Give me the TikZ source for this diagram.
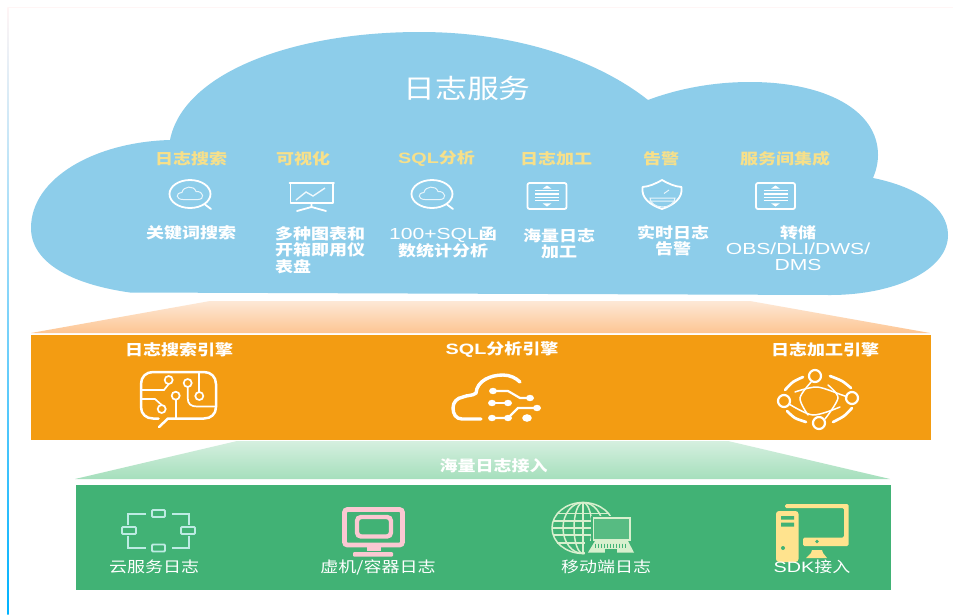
\documentclass[tikz,border=0pt]{standalone}
\usepackage{fontspec}
\setmainfont[FakeStretch=1.2]{Noto Sans CJK SC}
\newfontfamily\lat[FakeStretch=1.32]{Liberation Sans}
\definecolor{cloudblue}{HTML}{8DCDEA}
\definecolor{titleyellow}{HTML}{F7E08A}
\definecolor{bandorange}{HTML}{F39C12}
\definecolor{bandgreen}{HTML}{41B275}
\definecolor{iconcyan}{HTML}{BDEBE3}
\definecolor{iconpink}{HTML}{FBC8D2}
\definecolor{iconpale}{HTML}{D8F0CE}
\definecolor{iconyellow}{HTML}{FFE38E}
\definecolor{orangetop}{HTML}{FDE8D6}
\definecolor{orangebot}{HTML}{FDC592}
\definecolor{greentop}{HTML}{D5EFDF}
\definecolor{greenbot}{HTML}{A5DFBC}
\tikzset{
  x=1pt,y=-1pt,
  txt/.style={inner sep=0pt,text=white,align=center,font=\fontsize{15}{16.3}\selectfont},
  ttl/.style={inner sep=0pt,text=titleyellow,font=\fontsize{15}{16}\selectfont\bfseries},
  bold/.style={inner sep=0pt,text=white,font=\fontsize{15}{16}\selectfont\bfseries},
  low/.style={inner sep=0pt,text=white,font=\fontsize{15}{16}\selectfont},
  wicon/.style={draw=white,line width=1.8pt,line join=round,line cap=round},
  ficon/.style={draw=white!80!cloudblue,line width=1pt},
  oicon/.style={draw=white,line width=2.5pt,line cap=round,line join=round},
}
\newcommand\searchicon[2]{
  \begin{scope}[shift={(#1,#2)}]
    \draw[wicon] (0,0) ellipse [x radius=20.5,y radius=14];
    \draw[wicon] (15,10.5) -- (21,15);
    \draw[ficon] (-7,5.5) .. controls (-14,5.5) and (-15,-1) .. (-8,-1.5)
      .. controls (-7,-8) and (4,-9) .. (6,-2.5)
      .. controls (14,-3) and (15,5.5) .. (8,5.5) -- cycle;
  \end{scope}}
\newcommand\boxicon[2]{
  \begin{scope}[shift={(#1,#2)}]
    \draw[wicon,rounded corners=2pt] (-19.5,-13) rectangle (19.5,13);
    \foreach \yy in {-5.3,-2,1.3,4.7}{\draw[white,line width=1.4pt] (-12,\yy) -- (12,\yy);}
    \fill[white] (0,-10.5) -- (4.5,-7.3) -- (-4.5,-7.3) -- cycle;
    \fill[white] (0,10.5) -- (4.5,7.3) -- (-4.5,7.3) -- cycle;
  \end{scope}}
\begin{document}
\begin{tikzpicture}
\useasboundingbox (0,0) rectangle (953,614);
% page edges
\fill[white] (0,0) rectangle (953,614);
\shade[top color=red!4,middle color=yellow!15,bottom color=cyan!70!blue] (7.3,7) rectangle (8.6,614);
\fill[red!4] (8,7) rectangle (953,7.6);
% cloud
\fill[cloudblue] (130,292.5)
  .. controls (70,284) and (31,262) .. (31,228)
  .. controls (31,178) and (95,142) .. (170,140)
  .. controls (183,74) and (290,32) .. (420,32)
  .. controls (520,32) and (600,62) .. (648,100)
  .. controls (680,88) and (715,82) .. (750,82)
  .. controls (825,82) and (878,110) .. (878,155)
  .. controls (878,163) and (876,171) .. (873,178)
  .. controls (918,187) and (948,208) .. (948,235)
  .. controls (948,270) and (895,295) .. (830,295)
  -- cycle;
\node[inner sep=0pt,text=white,font=\fontsize{26.5}{28}\selectfont] (title) at (467,88) {日志服务};
\node[ttl] (t1) at (191,158.5) {日志搜索};
\node[ttl] (t2) at (303,158.5) {可视化};
\node[ttl] (t3) at (436.5,158.5) {{\lat SQL}分析};
\node[ttl] (t4) at (556,158.5) {日志加工};
\node[ttl] (t5) at (661,158.5) {告警};
\node[ttl] (t6) at (785,158.5) {服务间集成};
% cloud icons
\searchicon{190}{194}
\searchicon{432}{194}
\draw[wicon] (289.5,183) -- (334,183) (290.5,183) -- (290.5,203) -- (333,203) -- (333,183);
\draw[wicon] (311.5,203) -- (311.5,207) (297,211) -- (311.5,207) -- (326,211);
\draw[white!85!cloudblue,line width=1.4pt] (296,200) -- (306,192) -- (313,196) -- (325,188);
\boxicon{547}{196}
\boxicon{775.5}{196}
\draw[wicon] (662,180) .. controls (655,184) and (649,186.5) .. (642.5,187)
  .. controls (641,198) and (650,205) .. (662,209)
  .. controls (674,205) and (683,198) .. (681.5,187)
  .. controls (675,186.5) and (669,184) .. (662,180) -- cycle;
\draw[ficon] (650,198) arc [start angle=180,end angle=0,x radius=12.5,y radius=9] -- cycle;
\draw[ficon] (664,193.5) -- (669,190) (649,201) -- (675,201);
% cloud text
\node[txt] (s1) at (191,233) {\bfseries 关键词搜索};
\node[txt,align=left,anchor=west] (s2) at (275,250) {\bfseries 多种图表和\\\bfseries 开箱即用仪\\\bfseries 表盘};
\node[txt] (s3) at (443,242.5) {{\fontsize{16}{16.3}\selectfont\lat 100+SQL}\bfseries 函\\\bfseries 数统计分析};
\node[txt] (s4) at (559,244) {\bfseries 海量日志\\\bfseries 加工};
\node[txt] (s5) at (673,241) {\bfseries 实时日志\\\bfseries 告警};
\node[txt] (s6) at (798,248) {\bfseries 转储\\\fontsize{16}{16.3}\selectfont\lat OBS/DLI/DWS/\\\fontsize{16}{16.3}\selectfont\lat DMS};
% orange band
\shade[top color=orangetop,bottom color=orangebot] (210,301) -- (750,301) -- (930,333) -- (31,333) -- cycle;
\fill[bandorange] (30.5,334.5) rectangle (931,440);
\node[bold] (e1) at (179,349.5) {日志搜索引擎};
\node[bold] (e2) at (502,349.5) {{\lat SQL}分析引擎};
\node[bold] (e3) at (825,349.5) {日志加工引擎};
% circuit icon
\draw[oicon] (158.5,418.5) -- (153,418.5) .. controls (146,418.5) and (141,414) .. (141,407)
  -- (141,384) .. controls (141,377) and (146,372) .. (153,372)
  -- (204,372) .. controls (211,372) and (216,377) .. (216,384)
  -- (216,407) .. controls (216,414) and (211,418.5) .. (204,418.5) -- (168,418.5) -- (159,427);
\begin{scope}[draw=white,line width=1.7pt]
  \draw (168.7,380) circle [radius=4];
  \draw (187.7,383) circle [radius=4];
  \draw (199.3,396) circle [radius=4];
  \draw (175.7,395.7) circle [radius=4];
  \draw (161.7,409) circle [radius=4];
  \draw (168.7,384) -- (164,390) -- (141,390);
  \draw (187.7,387) -- (187.7,398) .. controls (187.7,404) and (191,406.5) .. (197,406.5) -- (215,406.5);
  \draw (199.3,372) -- (199.3,392);
  \draw (175.7,399.7) -- (175.7,418.5);
  \draw (141,399) -- (155,399) -- (161.7,405);
\end{scope}
% cloud-circuit icon
\draw[white,line width=3.4pt,line cap=round] (481,419) -- (462,419)
  .. controls (456,419) and (453,414) .. (453,408)
  .. controls (453,402) and (457,398) .. (463,397)
  .. controls (467,395) and (473,396) .. (476,393)
  .. controls (477,381) and (490,375) .. (503,375)
  .. controls (510,375) and (516,378) .. (520,382);
\begin{scope}[white,line width=2.2pt]
  \draw (493,391) -- (508,391) -- (520,398) -- (530,398);
  \draw (492,403) -- (508,403);
  \draw (492,418) -- (508,418) -- (518,408) -- (537,408);
  \foreach \px/\py in {493/391,530/398,492/403,508/403,492/418,508/418,537/408}{\fill (\px,\py) ellipse [x radius=4,y radius=3.2];}
  \fill (527,418) ellipse [x radius=4.8,y radius=3.8];
\end{scope}
% network icon
\begin{scope}[draw=white,line cap=round]
  \begin{scope}[line width=2.7pt]
    \draw plot[smooth] coordinates {(785,390) (793,382) (803,377)};
    \draw plot[smooth] coordinates {(830,376) (842,381) (851,388)};
    \draw plot[smooth] coordinates {(852,408) (844,416) (833,422)};
    \draw plot[smooth] coordinates {(787,411) (795,418) (806,422)};
  \end{scope}
  \begin{scope}[line width=2.2pt]
    \draw (815,376) circle [radius=6];
    \draw (852,398) circle [radius=6];
    \draw (819,423) circle [radius=6];
    \draw (784,401) circle [radius=6];
  \end{scope}
  \begin{scope}[line width=1.5pt]
    \draw plot[smooth] coordinates {(795,392) (817,387) (842,395) (847,397)};
    \draw plot[smooth] coordinates {(789,404) (813,415) (840,407)};
    \draw plot[smooth] coordinates {(812,381) (800,398) (808,415)};
    \draw plot[smooth] coordinates {(828,385) (838,398) (825,419)};
  \end{scope}
\end{scope}
% green band
\shade[top color=greentop,bottom color=greenbot] (237,441) -- (728,441) -- (890,479) -- (75,479) -- cycle;
\node[bold] (a0) at (493.5,466) {海量日志接入};
\fill[bandgreen] (76,485) rectangle (891,590);
% nodes icon
\begin{scope}[draw=iconcyan,line width=1.8pt]
  \draw[rounded corners=1pt] (152,510) rectangle (165,517);
  \draw[rounded corners=1pt] (152,544.5) rectangle (165,551.5);
  \draw[rounded corners=1pt] (122,527) rectangle (136,534);
  \draw[rounded corners=1pt] (181,527) rectangle (195,534);
  \draw (128,525) -- (128,514) -- (146,514);
  \draw (172,514) -- (189,514) -- (189,525);
  \draw (128,536) -- (128,548) -- (146,548);
  \draw (172,548) -- (189,548) -- (189,536);
\end{scope}
% monitor icon
\draw[iconpink,line width=4.8pt,rounded corners=3pt] (344.5,509.5) rectangle (402.5,545);
\draw[iconpink,line width=4.4pt,rounded corners=4pt] (357,517) rectangle (391,536.5);
\fill[iconpink] (366.5,547) rectangle (380.5,551);
\fill[iconpink,rounded corners=1pt] (353,552) rectangle (393,556.5);
% globe and laptop icon
\begin{scope}
  \begin{scope}[draw=iconpale,line width=1.5pt]
    \draw (583,528) ellipse [x radius=31,y radius=25.5];
    \draw (583,528) ellipse [x radius=20,y radius=25.5];
    \draw (583,528) ellipse [x radius=9,y radius=25.5];
    \draw (583,502.5) -- (583,553.5) (552,528) -- (614,528);
    \draw (557,513.5) -- (609,513.5) (553,521) -- (613,521) (553,535) -- (613,535) (557,543) -- (609,543);
  \end{scope}
  \fill[bandgreen] (591,516) rectangle (636,555);
  \fill[bandgreen] (585,541) rectangle (636,555);
  \draw[iconpale,line width=1.7pt] (593.5,518) rectangle (630,540);
  \fill[iconpale,opacity=.15] (593.5,518) rectangle (630,540);
  \fill[iconpale] (595,541) -- (628,541) -- (634,552.5) -- (588,552.5) -- cycle;
  \foreach \lx in {595,598,...,626}{\draw[bandgreen,line width=.5pt] (\lx,543.5) -- (\lx,548);}
  \fill[bandgreen] (605,549) rectangle (617,552.5);
\end{scope}
% computer icon
\fill[iconyellow,rounded corners=3pt] (776,511) rectangle (798.5,562);
\fill[bandgreen] (781,516) rectangle (794,519.5) (781,522.5) rectangle (794,526.5);
\fill[bandgreen] (783,548) circle [radius=2];
\fill[iconyellow,rounded corners=1.5pt] (785,504) -- (848.5,504) -- (848.5,546) -- (803,546) -- (803,537.5) -- (844,537.5) -- (844,508) -- (785,508) -- cycle;
\fill[bandgreen] (817,541.5) circle [radius=1.8];
\fill[iconyellow] (812,550) -- (822,550) -- (823,553) -- (827,558) -- (806,558) -- (811,553) -- cycle;
% green band labels
\node[low] (a1) at (154,567) {云服务日志};
\node[low] (a2) at (378,567) {虚机/容器日志};
\node[low] (a3) at (606,567) {移动端日志};
\node[low] (a4) at (812,567) {{\lat SDK}接入};
\end{tikzpicture}
\end{document}
